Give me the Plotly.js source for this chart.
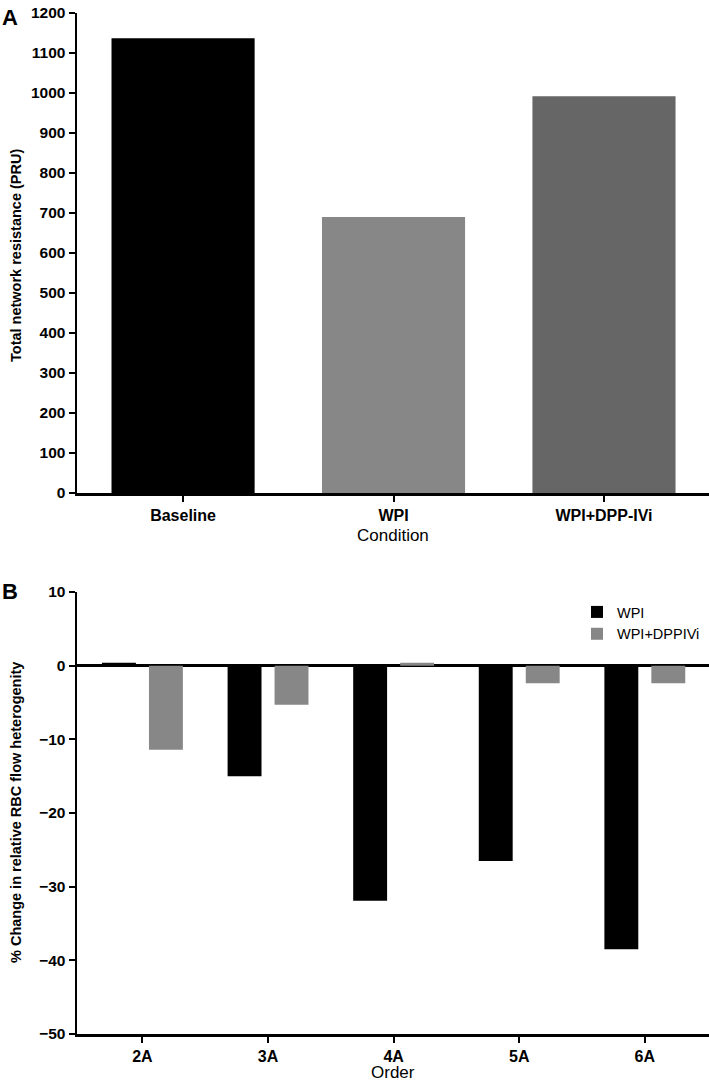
<!DOCTYPE html>
<html>
<head>
<meta charset="utf-8">
<script src="https://cdn.plot.ly/plotly-3.0.1.min.js"></script>
<style>html,body{margin:0;padding:0;background:#fff;}#chart{width:709px;height:1085px;}</style>
</head>
<body>
<div id="chart"></div>
<script>
// Panel A data
const conditions = ['Baseline', 'WPI', 'WPI+DPP-IVi'];
const resistance = [1137, 690, 992];
const conditionColors = ['#000000', '#878787', '#666666'];

// Panel B data
const orders = ['2A', '3A', '4A', '5A', '6A'];
const wpiChange = [0.4, -15.0, -31.9, -26.5, -38.5];
const wpiDppChange = [-11.4, -5.3, 0.4, -2.4, -2.4];
const seriesNames = ['WPI', 'WPI+DPPIVi'];
const seriesColors = ['#000000', '#878787'];

const W = 709, H = 1085, L = 77;
const px = x => (x - L) / (W - L);
const py = y => 1 - y / H;

const sans = 'Liberation Sans, Arial, Helvetica, sans-serif';

const axisCommon = {
  showline: true, linecolor: '#000', linewidth: 2.5,
  ticks: 'outside', ticklen: 6, tickwidth: 2, tickcolor: '#000',
  showgrid: false, zeroline: false, fixedrange: true
};
const yTickFont = {family: sans, size: 15.5, color: '#000', weight: 'bold'};
const xTickFont = {family: sans, size: 16, color: '#000', weight: 'bold'};

const traces = [
  {
    type: 'bar', x: conditions, y: resistance,
    marker: {color: conditionColors, line: {width: 0}},
    width: 0.68, offset: -0.34,
    xaxis: 'x', yaxis: 'y', showlegend: false
  },
  {
    type: 'bar', name: seriesNames[0], x: orders, y: wpiChange,
    marker: {color: seriesColors[0], line: {width: 0}},
    width: 0.27, offset: -0.322,
    xaxis: 'x2', yaxis: 'y2'
  },
  {
    type: 'bar', name: seriesNames[1], x: orders, y: wpiDppChange,
    marker: {color: seriesColors[1], line: {width: 0}},
    width: 0.27, offset: 0.052,
    xaxis: 'x2', yaxis: 'y2'
  }
];

const layout = {
  width: W, height: H,
  margin: {l: L, r: 0, t: 0, b: 0, pad: 0},
  paper_bgcolor: '#fff', plot_bgcolor: '#fff',
  barmode: 'overlay',
  xaxis: Object.assign({}, axisCommon, {
    domain: [0, 1], anchor: 'y', type: 'category',
    range: [-0.504, 2.499], tickfont: xTickFont
  }),
  yaxis: Object.assign({}, axisCommon, {
    domain: [py(493), py(13)], anchor: 'x',
    range: [0, 1200], dtick: 100, tick0: 0, tickfont: yTickFont
  }),
  xaxis2: Object.assign({}, axisCommon, {
    domain: [0, 1], anchor: 'y2', type: 'category',
    range: [-0.521, 4.511], tickfont: xTickFont
  }),
  yaxis2: Object.assign({}, axisCommon, {
    domain: [py(1034), py(592)], anchor: 'x2',
    range: [-50, 10], dtick: 10, tick0: 0, tickfont: yTickFont,
    zeroline: true, zerolinecolor: '#000', zerolinewidth: 2.5
  }),
  showlegend: true,
  legend: {
    x: px(577), y: py(596), xanchor: 'left', yanchor: 'top',
    font: {family: sans, size: 14.5, color: '#000'},
    bgcolor: 'rgba(0,0,0,0)', tracegroupgap: 0, itemwidth: 30
  },
  annotations: [
    {text: 'A', x: px(10), y: py(18), xref: 'paper', yref: 'paper', showarrow: false,
     xanchor: 'center', yanchor: 'middle', font: {family: sans, size: 22, color: '#000', weight: 'bold'}},
    {text: 'B', x: px(10), y: py(591), xref: 'paper', yref: 'paper', showarrow: false,
     xanchor: 'center', yanchor: 'middle', font: {family: sans, size: 22, color: '#000', weight: 'bold'}},
    {text: 'Total network resistance (PRU)', x: px(16), y: py(256), xref: 'paper', yref: 'paper',
     showarrow: false, textangle: -90, xanchor: 'center', yanchor: 'middle',
     font: {family: sans, size: 14.5, color: '#000', weight: 'bold'}},
    {text: '% Change in relative RBC flow heterogenity', x: px(16), y: py(813), xref: 'paper', yref: 'paper',
     showarrow: false, textangle: -90, xanchor: 'center', yanchor: 'middle',
     font: {family: sans, size: 14.5, color: '#000', weight: 'bold'}},
    {text: 'Condition', x: px(393), y: py(535), xref: 'paper', yref: 'paper', showarrow: false,
     xanchor: 'center', yanchor: 'middle', font: {family: sans, size: 17, color: '#000'}},
    {text: 'Order', x: px(393), y: py(1072), xref: 'paper', yref: 'paper', showarrow: false,
     xanchor: 'center', yanchor: 'middle', font: {family: sans, size: 17, color: '#000'}}
  ]
};

Plotly.newPlot('chart', traces, layout, {displayModeBar: false, staticPlot: true});
</script>
</body>
</html>
